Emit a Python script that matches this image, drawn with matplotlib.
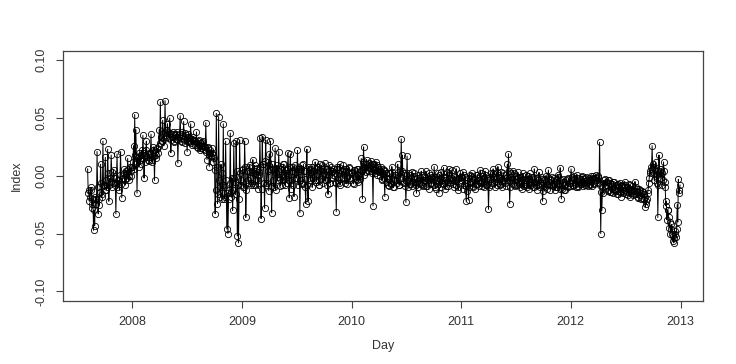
from itertools import zip_longest

import pandas as pd
import matplotlib
matplotlib.use('Agg')
import matplotlib.pyplot as plt
import matplotlib.dates as mdates

# values, roughly every 4 days, one list per year
v2007 = [0.006, -0.012, -0.018, -0.010, -0.024, -0.047, -0.043,
         -0.020, 0.021, -0.033, -0.025, 0.010, -0.018, 0.030, -0.008,
         0.016, -0.012, 0.023, -0.022, -0.002, 0.018, -0.010, 0.005,
         -0.006, -0.033, 0.019, -0.004, -0.012, 0.021, -0.019,
         -0.002, 0.006, -0.008, 0.002, 0.015, -0.004, 0.008, 0.000]
v2008 = [0.008, 0.026, 0.053, 0.040, -0.015, 0.015, 0.020, 0.010,
         0.022, 0.035, -0.002, 0.018, 0.030, 0.014, 0.020,
         0.016, 0.036, 0.012, 0.025, -0.004, 0.018, 0.024, 0.020,
         0.040, 0.064, 0.030, 0.048, 0.026, 0.065, 0.035, 0.045,
         0.036, 0.050, 0.020, 0.034, 0.038, 0.029, 0.036, 0.032,
         0.011, 0.034, 0.052, 0.030, 0.038, 0.047, 0.028, 0.035,
         0.021, 0.036, 0.030, 0.045, 0.027, 0.034, 0.031,
         0.030, 0.038, 0.024, 0.031, 0.022, 0.028, 0.026, 0.030,
         0.022, 0.046, 0.014, 0.025, 0.008, 0.020, 0.024, 0.018,
         0.015, -0.033, 0.054, -0.024, 0.051, -0.010, 0.010, -0.020,
         0.045, -0.020, 0.030, -0.046, -0.050, -0.012, 0.037, -0.018,
         -0.030, 0.028, -0.005, 0.030, -0.052, -0.058, 0.031, -0.008]
v2009 = [0.005, -0.010, 0.030, -0.036, 0.004, -0.004, 0.008, -0.002,
         -0.006, 0.014, 0.002, -0.008, 0.006, -0.004, 0.003,
         0.033, -0.037, 0.034, 0.010, -0.028, 0.031, -0.006, 0.012,
         0.019, 0.030, -0.032, 0.006, -0.010, 0.024, 0.002, -0.004,
         0.021, -0.003, 0.006, -0.008, 0.010, 0.000, 0.005, -0.006,
         0.020, -0.019, 0.019, -0.004, 0.008, -0.018, 0.003, -0.002,
         0.022, 0.004, -0.032, 0.006, -0.007, 0.010, -0.003,
         -0.024, 0.023, -0.022, 0.005, -0.004, 0.008, -0.002, 0.004,
         0.012, -0.005, 0.008, -0.008, 0.010, -0.003, 0.006, 0.000,
         0.011, -0.004, 0.006, -0.016, 0.009, -0.006, 0.004, 0.001,
         0.006, -0.005, -0.031, 0.008, -0.006, 0.010, -0.002,
         0.004, 0.009, -0.004, 0.006, -0.007, 0.003, 0.007, -0.002]
v2010 = [0.002, -0.006, 0.005, 0.000, -0.004, 0.006, 0.001, -0.003,
         0.015, -0.020, 0.025, 0.008, 0.003, 0.010, 0.005,
         0.008, 0.004, 0.010, -0.026, 0.006, 0.002, 0.009, 0.004,
         0.006, 0.000, 0.004, -0.003, 0.005, -0.018, 0.002,
         -0.002, -0.008, 0.002, -0.006, 0.008, -0.010, -0.003, 0.001,
         -0.004, 0.010, -0.008, 0.004, 0.032, 0.018, -0.006, 0.002,
         -0.023, 0.017, -0.004, 0.002, -0.007, 0.003, -0.005, 0.000,
         -0.003, -0.015, 0.001, -0.006, -0.002, 0.004, -0.008, -0.001,
         -0.004, 0.004, -0.009, -0.002, 0.002, -0.006, -0.001,
         -0.002, 0.008, -0.010, -0.004, 0.002, -0.015, -0.003, 0.003,
         -0.006, 0.007, -0.002, -0.009, 0.003, -0.005, 0.006, -0.004,
         0.005, -0.007, 0.000, -0.004, 0.006, -0.010, -0.002, 0.002]
v2011 = [-0.004, 0.003, -0.008, -0.001, -0.022, -0.006, -0.021, 0.001,
         -0.005, 0.002, -0.009, -0.003, 0.001, -0.007, -0.002,
         -0.004, 0.005, -0.006, 0.000, -0.003, 0.004, -0.008, -0.002,
         -0.029, -0.003, 0.002, -0.006, 0.006, -0.001, -0.005, 0.003,
         0.008, -0.002, -0.007, 0.003, -0.004, 0.001, -0.006, -0.002,
         0.010, 0.019, -0.024, 0.002, -0.004, 0.004, -0.008, 0.000,
         -0.003, 0.003, -0.007, -0.001, -0.005, 0.002, -0.009,
         -0.004, 0.001, -0.008, -0.003, 0.002, -0.006, -0.001, -0.010,
         0.006, -0.005, -0.002, -0.008, 0.003, -0.006, -0.003, -0.022,
         -0.004, -0.010, 0.000, -0.007, 0.005, -0.003, -0.008, -0.001,
         -0.006, -0.002, -0.010, -0.004, 0.001, -0.007, 0.007,
         -0.020, -0.003, -0.008, -0.012, -0.004, -0.009, -0.002, -0.006]
v2012 = [0.006, -0.004, -0.008, -0.002, -0.006, 0.001, -0.010, -0.005,
         -0.003, -0.007, -0.001, -0.006, -0.002, -0.008, -0.004,
         -0.005, -0.002, -0.007, -0.003, 0.000, -0.006, -0.004, -0.002,
         -0.004, 0.000, 0.029, -0.050, -0.030, -0.015, -0.006, -0.003,
         -0.008, -0.004, -0.012, -0.006, -0.014, -0.009, -0.005, -0.011,
         -0.013, -0.008, -0.016, -0.010, -0.006, -0.014, -0.009, -0.012,
         -0.005, -0.014, -0.010, -0.017, -0.011, -0.008, -0.015, -0.012,
         -0.013, -0.005, -0.016, -0.011, -0.018, -0.012, -0.015, -0.019,
         -0.014, -0.020, -0.027, -0.024, -0.015, -0.006, 0.004, 0.008,
         0.026, 0.010, -0.004, 0.012, -0.006, -0.036, 0.018, 0.004,
         0.006, -0.008, 0.012, -0.005, -0.026, -0.038, -0.030, -0.045,
         -0.050, -0.042, -0.056, -0.058, -0.048, -0.053, -0.025, -0.003, -0.012]

w2007 = [-0.015, -0.022, -0.012, -0.028, -0.020, -0.030, -0.018,
         -0.024, -0.010, -0.020, -0.014, -0.006, -0.016, -0.008, -0.012,
         -0.004, -0.010, 0.002, -0.008, -0.005, 0.003, -0.006, -0.002,
         -0.008, -0.002, -0.010, -0.004, 0.001, -0.007, -0.003,
         0.002, -0.004, 0.004, -0.002, 0.006, 0.000, 0.004, 0.008]
w2008 = [0.012, 0.006, 0.018, 0.010, 0.016, 0.008, 0.014, 0.018,
         0.015, 0.020, 0.012, 0.022, 0.016, 0.019, 0.013,
         0.020, 0.014, 0.022, 0.017, 0.021, 0.015, 0.023, 0.026,
         0.028, 0.034, 0.030, 0.037, 0.032, 0.040, 0.034, 0.038,
         0.033, 0.037, 0.031, 0.036, 0.030, 0.035, 0.032, 0.038,
         0.031, 0.036, 0.033, 0.029, 0.035, 0.032, 0.037, 0.030,
         0.034, 0.029, 0.033, 0.028, 0.032, 0.030, 0.027,
         0.029, 0.025, 0.030, 0.027, 0.024, 0.029, 0.023, 0.026,
         0.025, 0.021, 0.024, 0.018, 0.022, 0.017, 0.020, 0.012,
         0.005, -0.012, 0.008, -0.016, -0.004, -0.018, 0.002, -0.008,
         -0.010, -0.018, -0.004, -0.015, -0.020, -0.006, -0.014, -0.002,
         -0.012, -0.002, -0.016, 0.004, -0.008, -0.020, 0.002, -0.004]
w2009 = [0.006, -0.010, 0.008, -0.012, 0.004, -0.006, 0.009, -0.008,
         0.003, -0.008, 0.009, -0.004, 0.007, -0.011, 0.001,
         0.008, -0.011, 0.010, -0.006, 0.013, -0.008, 0.004, -0.013,
         0.006, -0.009, 0.010, -0.004, 0.007, -0.012, 0.009, -0.001,
         0.004, -0.009, 0.008, -0.004, 0.010, -0.008, 0.002, 0.006,
         -0.004, 0.008, -0.011, 0.004, -0.008, 0.009, -0.002, 0.006,
         -0.008, 0.006, -0.004, 0.009, -0.006, 0.004, -0.010,
         0.004, -0.008, 0.008, -0.002, 0.006, -0.010, 0.004, -0.004,
         0.006, -0.004, 0.008, -0.008, 0.004, 0.009, -0.006, 0.002,
         -0.004, 0.006, -0.008, 0.004, -0.006, 0.008, -0.002, 0.004,
         0.002, -0.006, 0.006, -0.004, 0.008, -0.008, 0.004,
         -0.002, 0.006, -0.006, 0.004, 0.000, 0.008, -0.004, 0.002]
w2010 = [0.003, -0.007, 0.005, -0.003, 0.006, -0.005, 0.000, 0.004,
         0.006, 0.012, 0.001, 0.010, 0.014, 0.004, 0.011,
         0.007, 0.013, 0.002, 0.010, 0.005, 0.012, 0.001, 0.008,
         0.003, 0.008, -0.004, 0.006, -0.002, 0.004, -0.005,
         -0.003, -0.009, 0.002, -0.007, 0.003, -0.010, -0.004, 0.001,
         -0.006, 0.003, -0.008, -0.002, 0.004, -0.005, 0.001, -0.009,
         -0.004, -0.010, 0.001, -0.007, -0.002, -0.009, 0.002, -0.005,
         -0.008, -0.002, -0.010, -0.004, -0.007, 0.001, -0.009, -0.004,
         -0.002, -0.009, -0.004, -0.011, 0.001, -0.007, -0.003,
         -0.008, -0.001, -0.011, -0.004, -0.007, 0.001, -0.010, -0.004,
         -0.007, -0.001, -0.011, -0.004, -0.009, 0.002, -0.006, -0.002,
         -0.004, -0.010, -0.001, -0.008, -0.003, -0.012, -0.006, -0.001]
w2011 = [-0.001, -0.011, 0.001, -0.009, -0.013, -0.002, -0.010, -0.006,
         0.000, -0.010, -0.004, -0.011, -0.007, 0.001, -0.009,
         -0.005, 0.002, -0.009, -0.002, -0.010, 0.001, -0.008, -0.004,
         -0.010, -0.001, -0.008, 0.002, -0.005, -0.010, -0.002, -0.008,
         0.001, -0.008, -0.002, -0.010, 0.002, -0.005, -0.009, -0.001,
         -0.004, 0.004, -0.010, -0.001, -0.007, 0.002, -0.009, -0.003,
         -0.008, -0.001, -0.010, -0.004, -0.011, 0.000, -0.007,
         -0.004, -0.010, 0.000, -0.011, -0.005, -0.008, -0.001, -0.010,
         -0.002, -0.008, -0.012, -0.004, -0.010, -0.001, -0.008, -0.013,
         -0.009, -0.003, -0.011, -0.001, -0.008, -0.012, -0.004, -0.009,
         -0.007, -0.012, -0.003, -0.010, -0.001, -0.011, -0.004,
         -0.011, -0.005, -0.012, -0.008, -0.003, -0.010, -0.006, -0.009]
w2012 = [-0.001, -0.009, 0.000, -0.007, -0.010, -0.002, -0.009, -0.005,
         -0.007, 0.000, -0.009, -0.003, -0.008, -0.001, -0.009,
         -0.004, -0.008, 0.000, -0.009, -0.002, -0.007, 0.001, -0.005,
         -0.001, -0.006, -0.008, -0.014, -0.010, -0.004, -0.009, -0.008,
         -0.005, -0.013, -0.004, -0.014, -0.007, -0.015, -0.005, -0.012,
         -0.008, -0.016, -0.007, -0.014, -0.018, -0.008, -0.015, -0.010,
         -0.008, -0.016, -0.011, -0.007, -0.018, -0.013, -0.009, -0.017,
         -0.016, -0.010, -0.014, -0.019, -0.011, -0.017, -0.020, -0.013,
         -0.016, -0.018, -0.022, -0.020, -0.012, -0.002, 0.002, 0.006,
         0.008, 0.002, 0.006, 0.000, 0.004, -0.008, 0.006, -0.002,
         0.002, -0.004, 0.004, -0.010, -0.022, -0.030, -0.036, -0.040,
         -0.046, -0.050, -0.052, -0.054, -0.050, -0.046, -0.040, -0.015, -0.008]

# first and last day covered by each year
spans = [('2007-08-06', '2007-12-31'), ('2008-01-02', '2008-12-30'),
         ('2009-01-02', '2009-12-30'), ('2010-01-02', '2010-12-30'),
         ('2011-01-02', '2011-12-30'), ('2012-01-02', '2012-12-30')]
yearly = [(v2007, w2007), (v2008, w2008), (v2009, w2009),
          (v2010, w2010), (v2011, w2011), (v2012, w2012)]

days = []
vals = []
for (start, end), (a, b) in zip(spans, yearly):
    v = [x for pair in zip_longest(a, b) for x in pair if x is not None]
    days.extend(pd.date_range(start, end, periods=len(v)))
    vals.extend(v)
s = pd.Series(vals, index=pd.DatetimeIndex(days))

plt.rcParams['font.family'] = ['Liberation Sans', 'DejaVu Sans']

fig = plt.figure(figsize=(7.36, 3.64), dpi=100)
ax = fig.add_axes([0.0852, 0.174, 0.8698, 0.686])

# R style type="o": open circles joined by lines
ax.plot(s.index, s.values, color='black', lw=0.7,
        marker='o', ms=4.5, mfc='none', mec='black', mew=0.6)

ax.set_xlim(pd.Timestamp('2007-05-15'), pd.Timestamp('2013-03-16'))
ax.set_ylim(-0.108, 0.108)
ax.xaxis.set_major_locator(mdates.YearLocator())
ax.xaxis.set_major_formatter(mdates.DateFormatter('%Y'))
ax.set_yticks([-0.10, -0.05, 0.0, 0.05, 0.10])
ax.set_yticklabels(['-0.10', '-0.05', '0.00', '0.05', '0.10'],
                   rotation=90, va='center')

for sp in ax.spines.values():
    sp.set_color('#444444')
    sp.set_linewidth(0.9)
ax.tick_params(direction='out', length=5, width=0.8, color='#444444',
               labelsize=9, labelcolor='#333333', pad=6)

ax.set_xlabel('Day', fontsize=9, color='#333333', labelpad=9)
ax.set_ylabel('Index', fontsize=9, color='#333333', labelpad=9)

fig.savefig('out.png', dpi=100)
